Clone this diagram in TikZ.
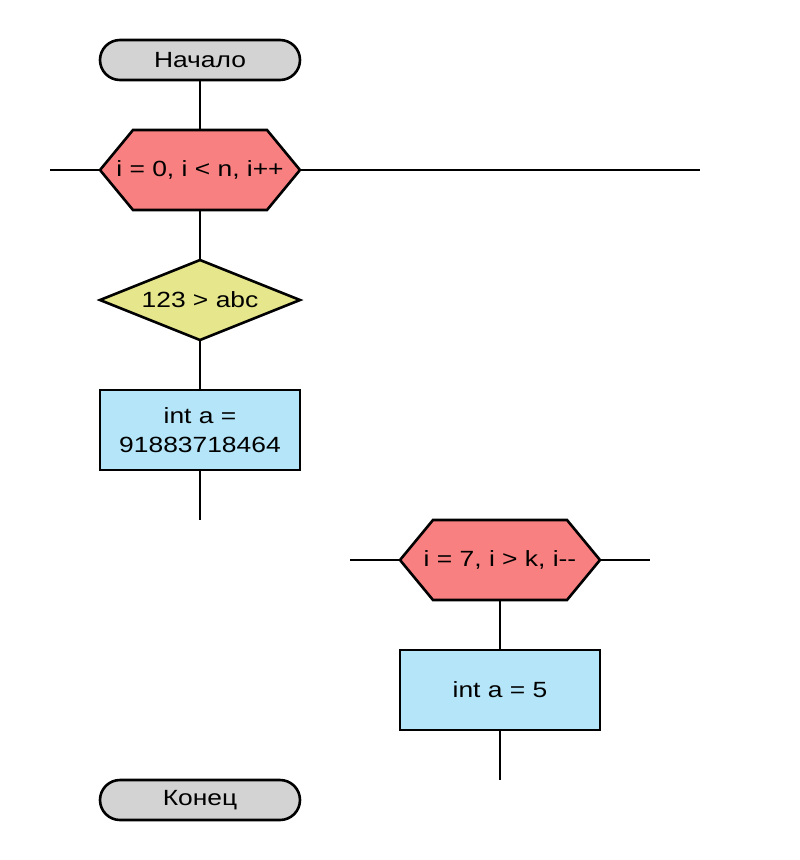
\documentclass[tikz,border=0pt]{standalone}
\usepackage{fontspec}
\setmainfont[FakeStretch=1.2]{Liberation Sans}
\usetikzlibrary{backgrounds}
\definecolor{termfill}{RGB}{211,211,211}
\definecolor{hexfill}{RGB}{248,128,128}
\definecolor{decfill}{RGB}{230,230,140}
\definecolor{procfill}{RGB}{180,229,248}
\tikzset{
  base/.style={inner sep=0pt, outer sep=0pt, font=\fontsize{22}{29}\selectfont, align=center, text=black},
  term/.style={base, draw, line width=2.6pt, fill=termfill, rounded corners=20pt, minimum width=200pt, minimum height=40pt},
  proc/.style={base, draw, line width=2.6pt, fill=procfill, minimum width=200pt, minimum height=80pt},
  hexnode/.style={base, minimum width=200pt, minimum height=80pt},
  decnode/.style={base, minimum width=200pt, minimum height=80pt},
  hexshape/.style={draw, line width=2.6pt, fill=hexfill, line join=miter},
  decshape/.style={draw, line width=2.6pt, fill=decfill, line join=miter},
  conn/.style={draw, line width=2.6pt},
}
\begin{document}
\begin{tikzpicture}[x=1pt,y=-1pt]
\useasboundingbox (0,0) rectangle (800,860);
\node[term] (start) at (200,60) {Начало};
\node[hexnode] (loop1) at (200,170) {i = 0, i < n, i++};
\node[decnode] (dec) at (200,300) {123 > abc};
\node[proc] (p1) at (200,430) {int a =\\91883718464};
\node[hexnode] (loop2) at (500,560) {i = 7, i > k, i-{}-};
\node[proc] (p2) at (500,690) {int a = 5};
\node[term] (end) at (200,800) {Конец};
\coordinate (l1w) at (50,170);
\coordinate (l1e) at (700,170);
\coordinate (p1end) at (200,520);
\coordinate (l2w) at (350,560);
\coordinate (l2e) at (650,560);
\coordinate (p2end) at (500,780);
\begin{pgfonlayer}{background}
\draw[hexshape] (loop1.west) -- ([xshift=33pt]loop1.north west) -- ([xshift=-33pt]loop1.north east) -- (loop1.east) -- ([xshift=-33pt]loop1.south east) -- ([xshift=33pt]loop1.south west) -- cycle;
\draw[hexshape] (loop2.west) -- ([xshift=33pt]loop2.north west) -- ([xshift=-33pt]loop2.north east) -- (loop2.east) -- ([xshift=-33pt]loop2.south east) -- ([xshift=33pt]loop2.south west) -- cycle;
\draw[decshape] (dec.west) -- (dec.north) -- (dec.east) -- (dec.south) -- cycle;
\end{pgfonlayer}
\draw[conn] (start.south) -- (loop1.north);
\draw[conn] (l1w) -- (loop1.west);
\draw[conn] (loop1.east) -- (l1e);
\draw[conn] (loop1.south) -- (dec.north);
\draw[conn] (dec.south) -- (p1.north);
\draw[conn] (p1.south) -- (p1end);
\draw[conn] (l2w) -- (loop2.west);
\draw[conn] (loop2.east) -- (l2e);
\draw[conn] (loop2.south) -- (p2.north);
\draw[conn] (p2.south) -- (p2end);
\end{tikzpicture}
\end{document}
